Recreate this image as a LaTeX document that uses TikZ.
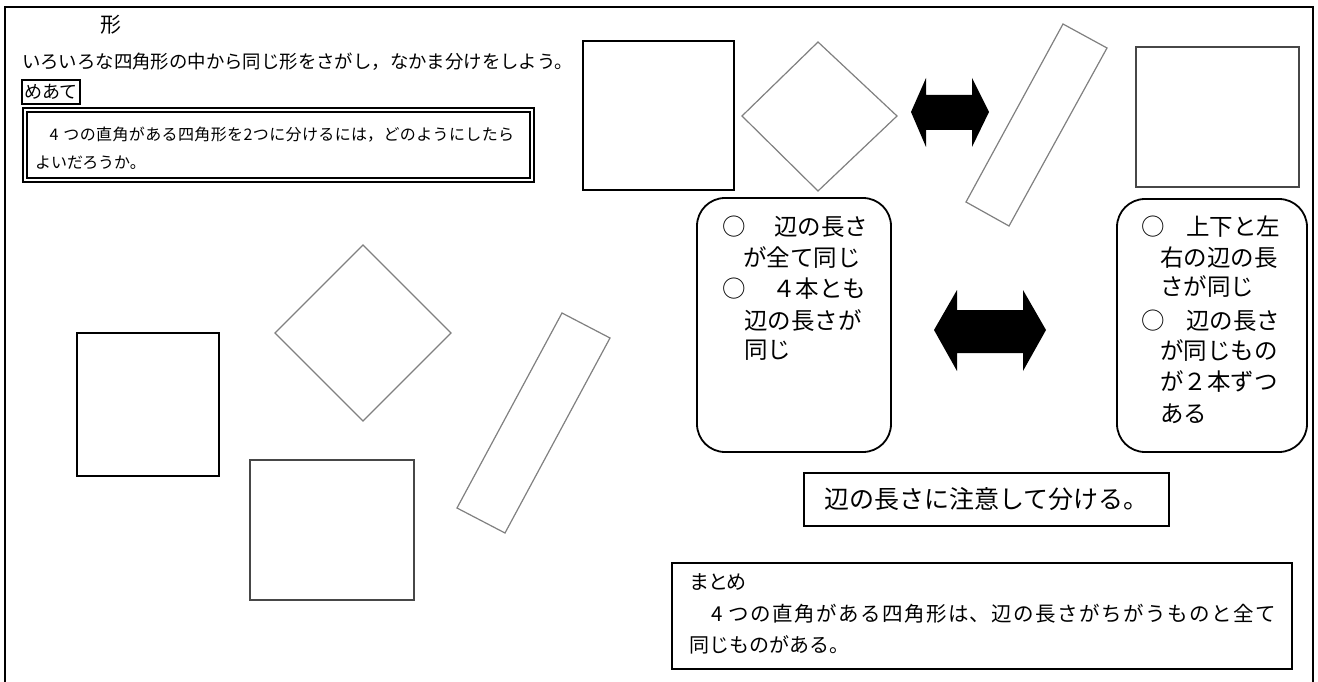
\documentclass[tikz,border=0pt]{standalone}
\usepackage{fontspec}
\newfontfamily\jp{Noto Sans CJK JP}
\newfontfamily\jpp[RawFeature=+palt]{Noto Sans CJK JP}
\XeTeXlinebreaklocale "ja"
\XeTeXlinebreakskip=0pt plus 2pt
\newcommand\jfs[1]{\jp\fontsize{#1}{#1}\selectfont}
\newcommand\jpfs[1]{\jpp\fontsize{#1}{#1}\selectfont}
\begin{document}
\begin{tikzpicture}[x=1pt,y=-1pt,
  txt/.style={inner sep=0, anchor=base west},
  shapeK/.style={draw=black, line width=1.1},
  shapeG/.style={draw=black!50, line width=1.2},
  shapeD/.style={draw=black!72, line width=1.2},
  fatarrow/.style={fill=black},
  roundbox/.style={draw, line width=1.8, rounded corners=28pt, inner sep=0},
  textbox/.style={draw, line width=1.4, inner sep=0},
  boxline/.style={txt, font=\jfs{23.5}}]
\useasboundingbox (0,0) rectangle (1318,682);
\fill[white] (0,0) rectangle (1318,682);
% outer frame (open at the bottom)
\draw[line width=2] (5,690) -- (5,7) -- (1313,7) -- (1313,690);

% header texts
\node[inner sep=0, anchor=base, font=\jfs{21}] (title) at (111,33) {形};
\node[txt, font=\jfs{18.4}] (intro) at (22,69) {いろいろな四角形の中から同じ形をさがし，なかま分けをしよう。};
\node[textbox, line width=1.6, minimum width=58, minimum height=24, font=\jfs{18}] (meate) at (51,92) {めあて};

% goal double box
\node[draw, line width=1.2, minimum width=511, minimum height=74, inner sep=0] (goalout) at (278.5,145) {};
\node[draw, line width=1.8, minimum width=503, minimum height=66, inner sep=0] (goalin) at (278.5,145) {};
\node[txt, font=\jfs{16}] (goal1) at (33,141) {\parbox[t]{481pt}{\parfillskip=0pt\relax 　4\hspace{5pt}つの直角がある四角形を2つに分けるには，どのようにしたら}};
\node[txt, font=\jfs{16}] (goal2) at (35,169) {よいだろうか。};

% top shapes
\draw[shapeK] (583,41) rectangle (734,190);
\draw[shapeG] (818,42) -- (897,116) -- (818,191) -- (742,116) -- cycle;
\fill[fatarrow] (911,112) -- (926,78) -- (926,95) -- (972,95) -- (972,78) -- (989,112)
  -- (972,147) -- (972,130) -- (926,130) -- (926,147) -- cycle;
\draw[shapeG] (1063,24) -- (1107,48) -- (1009,226) -- (966,202) -- cycle;
\draw[shapeD] (1136,47) rectangle (1299,187);

% left shapes
\draw[shapeK] (77,333) rectangle (219,476);
\draw[shapeG] (363,245) -- (451,333) -- (363,421) -- (275,333) -- cycle;
\draw[shapeD] (250,460) rectangle (414,600);
\draw[shapeG] (562,313) -- (610,338) -- (505,533) -- (457,508) -- cycle;

% middle arrow
\fill[fatarrow] (934,330) -- (957,290) -- (957,310) -- (1023,310) -- (1023,290) -- (1046,330)
  -- (1023,371) -- (1023,353) -- (957,353) -- (957,371) -- cycle;

% rounded boxes
\node[roundbox, minimum width=194, minimum height=254] (leftbox) at (794,325) {};
\node[roundbox, minimum width=190, minimum height=253] (rightbox) at (1212,325.5) {};

\node[boxline] (l1) at (722,236) {\makebox[52pt][l]{○}辺の長さ};
\node[boxline] (l2) at (743,266) {が全て同じ};
\node[boxline] (l3) at (722,297) {\makebox[50pt][l]{○}４本とも};
\node[boxline] (l4) at (744,329) {辺の長さが};
\node[boxline] (l5) at (744,358) {同じ};

\node[boxline] (r1) at (1141,236) {\makebox[45pt][l]{○}上下と左};
\node[boxline] (r2) at (1160,266) {右の辺の長};
\node[boxline] (r3) at (1160,295) {さが同じ};
\node[boxline] (r4) at (1141,329) {\makebox[45pt][l]{○}辺の長さ};
\node[boxline] (r5) at (1160,359) {が同じもの};
\node[boxline] (r6) at (1160,390) {が２本ずつ};
\node[boxline] (r7) at (1160,422) {ある};

% note box
\node[textbox, minimum width=365, minimum height=53, font=\jfs{25}] (note) at (986.5,499.5) {辺の長さに注意して分ける。};

% summary box
\node[textbox, minimum width=620, minimum height=106] (summary) at (982,616) {};
\node[txt, font=\jpfs{20}] (sum1) at (690,589.6) {まとめ};
\node[txt, font=\jfs{20.5}] (sum2) at (689,621.8) {\parbox[t]{587pt}{\parfillskip=0pt\relax 　4\hspace{6pt}つの直角がある四角形は、辺の長さがちがうものと全て}};
\node[txt, font=\jfs{20}] (sum3) at (689,652.8) {同じものがある。};
\end{tikzpicture}
\end{document}
